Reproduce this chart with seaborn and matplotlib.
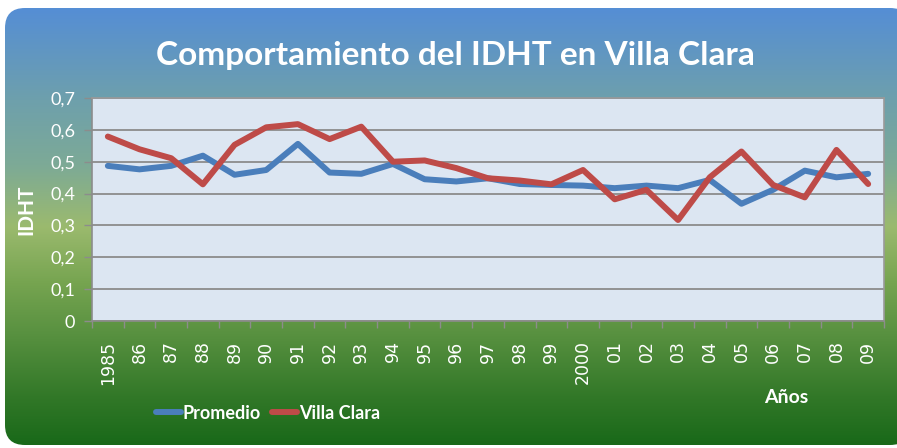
import numpy as np
import pandas as pd
import matplotlib.pyplot as plt
import seaborn as sns
from matplotlib.colors import LinearSegmentedColormap
from matplotlib.patches import FancyBboxPatch
from matplotlib.ticker import FuncFormatter, FixedLocator

# datos
anios = ["1985", "86", "87", "88", "89", "90", "91", "92", "93", "94", "95", "96",
         "97", "98", "99", "2000", "01", "02", "03", "04", "05", "06", "07", "08", "09"]
promedio = [0.487, 0.476, 0.487, 0.519, 0.459, 0.474, 0.556, 0.466, 0.462, 0.493,
            0.445, 0.438, 0.448, 0.430, 0.427, 0.425, 0.417, 0.425, 0.417, 0.443,
            0.368, 0.412, 0.472, 0.451, 0.462]
villa_clara = [0.579, 0.539, 0.511, 0.429, 0.553, 0.608, 0.618, 0.571, 0.610, 0.500,
               0.504, 0.480, 0.448, 0.441, 0.429, 0.474, 0.382, 0.412, 0.317, 0.451,
               0.532, 0.427, 0.388, 0.537, 0.430]

df = pd.DataFrame({
    "Año": anios * 2,
    "IDHT": promedio + villa_clara,
    "Serie": ["Promedio"] * len(anios) + ["Villa Clara"] * len(anios),
})

sns.set_style("white")
plt.rcParams["font.family"] = ["Lato", "DejaVu Sans"]

fig = plt.figure(figsize=(8.97, 4.48), dpi=100)

# fondo con degradado y esquinas redondeadas
bg = fig.add_axes([0, 0, 1, 1], zorder=-5)
bg.set_xlim(0, 897)
bg.set_ylim(448, 0)
bg.axis("off")
stops = [(0.0, (85/255, 142/255, 213/255)),
         (0.21, (110/255, 160/255, 172/255)),
         (0.36, (125/255, 170/255, 150/255)),
         (0.50, (155/255, 186/255, 110/255)),
         (0.63, (118/255, 164/255, 80/255)),
         (0.74, (90/255, 146/255, 65/255)),
         (0.89, (50/255, 120/255, 40/255)),
         (1.0, (25/255, 105/255, 25/255))]
cmap = LinearSegmentedColormap.from_list("fondo", stops)
grad = np.linspace(0, 1, 256).reshape(-1, 1)
im = bg.imshow(grad, cmap=cmap, aspect="auto", extent=(5, 897, 445, 8))
box = FancyBboxPatch((5, 8), 905, 437, boxstyle="round,pad=0,rounding_size=20",
                     transform=bg.transData, facecolor="none", edgecolor="none")
bg.add_patch(box)
im.set_clip_path(box)

ax = fig.add_axes([92/897, 1 - 321/448, (884 - 92)/897, (321 - 98)/448])
ax.set_facecolor("#dce6f2")

sns.lineplot(data=df, x="Año", y="IDHT", hue="Serie", sort=False, ax=ax,
             palette={"Promedio": "#4a7ebb", "Villa Clara": "#be4b48"},
             linewidth=4.3, legend=True)

ax.set_xlim(-0.5, len(anios) - 0.5)
ax.set_ylim(0, 0.7)
ax.set_yticks(np.arange(0, 0.71, 0.1))
ax.yaxis.set_major_formatter(FuncFormatter(lambda v, p: "0" if abs(v) < 1e-9 else f"{v:.1f}".replace(".", ",")))
ax.grid(axis="y", color="#8c8c8c", linewidth=1.3)
ax.grid(axis="x", visible=False)
for s in ax.spines.values():
    s.set_color("#9a9a9a")
    s.set_linewidth(1.2)
ax.spines["left"].set_color("#8c8c8c")
ax.spines["bottom"].set_color("#8c8c8c")

ax.tick_params(axis="y", which="major", left=True, length=6, width=1, color="#8c8c8c",
               labelcolor="white", labelsize=13, pad=6)
ax.tick_params(axis="x", which="major", bottom=False, length=0, labelcolor="white",
               labelsize=12.5, pad=14)
ax.xaxis.set_minor_locator(FixedLocator(np.arange(-0.5, len(anios), 1.0)))
ax.tick_params(axis="x", which="minor", bottom=True, length=5, width=1, color="#8c8c8c")
for lab in ax.get_xticklabels():
    lab.set_rotation(90)
    lab.set_fontfamily("DejaVu Sans")

ax.set_xlabel("")
ax.set_ylabel("IDHT", color="white", fontsize=15, fontweight="bold", labelpad=10)

fig.text(455/897, 1 - 55/448, "Comportamiento del IDHT en Villa Clara", ha="center", va="center",
         color="white", fontsize=24, fontweight="bold")
fig.text(786/897, 1 - 397/448, "Años", ha="center", va="center", color="white",
         fontsize=14, fontweight="bold")

handles, labels = ax.get_legend_handles_labels()
ax.get_legend().remove()
leg = fig.legend(handles, labels, loc="center", bbox_to_anchor=(268/897, 1 - 413/448),
                 ncol=2, frameon=False, handlelength=1.4, handletextpad=0.1,
                 columnspacing=0.6, prop={"weight": "bold", "size": 13})
for t in leg.get_texts():
    t.set_color("white")

fig.savefig("out.png", dpi=100)
